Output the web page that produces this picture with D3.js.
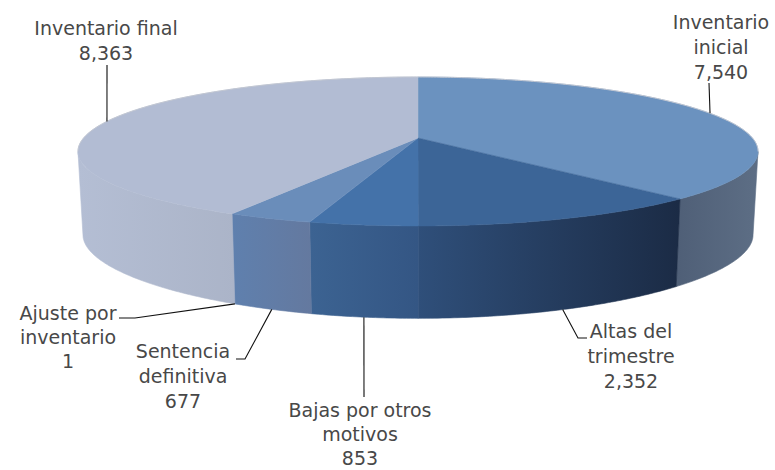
<!DOCTYPE html>
<html><head><meta charset="utf-8">
<script src="https://cdn.jsdelivr.net/npm/d3@7"></script>
<style>html,body{margin:0;padding:0;background:#fff}svg{display:block}
text{font-family:"DejaVu Sans",sans-serif;fill:#484848;font-size:19px;text-anchor:middle}</style>
</head><body><svg id="c" width="775" height="470"></svg>
<script>
const categories=["Inventario inicial","Altas del trimestre","Bajas por otros motivos","Sentencia definitiva","Ajuste por inventario","Inventario final"];
const values=[7540,2352,853,677,1,8363];
const topColors=["#6b92bf","#3c6597","#4472a9","#6a8dba","#6a8dba","#b2bcd3"];
const wallStops=[["#4f5f77","#5d6e85"],["#2f4f7a","#1b2b45"],["#3c6392","#345684"],["#5f80ae","#64799f"],["#5f80ae","#5f80ae"],["#b4bed4","#abb4c8"]];
const labelLines=[["Inventario","inicial","7,540"],["Altas del","trimestre","2,352"],["Bajas por otros","motivos","853"],["Sentencia","definitiva","677"],["Ajuste por","inventario","1"],["Inventario final","8,363"]];
const labelX=[721,631,360,183,68,106];
const labelY=[29,338,417,358,320,35];
const labelGap=[25,25,24,25,24,25];
const leaders=[[[709,83]],[[587,338],[578,338]],[[364,397]],[[236,359],[245,359]],[[119,318],[135,318]],[[107,65]]];
const svg=d3.select("#c");
const pie=d3.pie().sort(null).value(d=>d).startAngle(0).endAngle(2*Math.PI);
const arcs=pie(values);
const cx=418,cy=138;
const k=0.181;
const topP=t=>{const u=Math.sin(t),v=Math.cos(t),w=1+k*v;return [cx+334.4*u/w,cy-72.05*v/w];};
const baseP=t=>{const u=Math.sin(t),v=Math.cos(t);return [cx+329.5*u/(1+k*v),cy+83-73*v/(1+0.25*v)];};
const samples=(a,b,f)=>{const n=Math.max(2,Math.ceil((b-a)/0.01));return d3.range(n+1).map(i=>f(a+(b-a)*i/n));};
const line=d3.line();
const defs=svg.append("defs");
const tMin=Math.acos(-k),tMax=2*Math.PI-Math.acos(-k);
arcs.forEach((d,i)=>{
  const a=Math.max(d.startAngle,tMin),b=Math.min(d.endAngle,tMax);
  if(b<=a)return;
  const t=samples(a,b,topP),q=samples(a,b,baseP).reverse();
  const x0=d3.min(t.concat(q),p=>p[0]),x1=d3.max(t.concat(q),p=>p[0]);
  const id="w"+i;
  const g=defs.append("linearGradient").attr("id",id).attr("gradientUnits","userSpaceOnUse").attr("x1",x0).attr("x2",x1).attr("y1",0).attr("y2",0);
  g.append("stop").attr("offset",0).attr("stop-color",wallStops[i][0]);
  g.append("stop").attr("offset",1).attr("stop-color",wallStops[i][1]);
  svg.append("path").attr("d",line(t.concat(q))+"Z").attr("fill",`url(#${id})`).attr("stroke",`url(#${id})`).attr("stroke-width",0.6);
});
arcs.forEach((d,i)=>{
  if(d.endAngle-d.startAngle<0.005)return;
  svg.append("path").attr("d",line([[cx,cy]].concat(samples(d.startAngle,d.endAngle,topP)))+"Z").attr("fill",topColors[i]).attr("stroke",topColors[i]).attr("stroke-width",0.5);
});
svg.append("path").attr("d",line(samples(tMax-2*Math.PI,tMin,topP))).attr("fill","none").attr("stroke","#c2c7d2").attr("stroke-width",1);
arcs.forEach((d,i)=>{
  const mid=categories[i].startsWith("Ajuste")?d.startAngle:(d.startAngle+d.endAngle)/2;
  const s=Math.cos(mid)>0?topP(mid):baseP(mid);
  svg.append("path").attr("d",line(leaders[i].concat([s]))).attr("fill","none").attr("stroke","#111").attr("stroke-width",1.1);
});
labelLines.forEach((ls,i)=>{
  const t=svg.append("text").attr("x",labelX[i]).attr("y",labelY[i]);
  ls.forEach((s,j)=>t.append("tspan").attr("x",labelX[i]).attr("dy",j?labelGap[i]:0).text(s));
});
</script></body></html>
